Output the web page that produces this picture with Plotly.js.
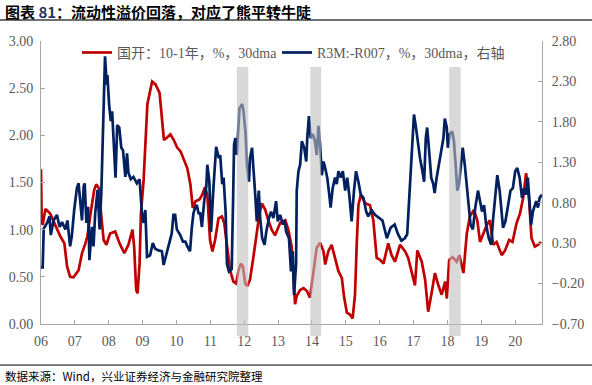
<!DOCTYPE html>
<html><head><meta charset="utf-8">
<script src="https://cdn.plot.ly/plotly-3.0.1.min.js"></script>
<style>html,body{margin:0;padding:0;background:#fff;}#chart{width:592px;height:385px;}</style>
</head><body><div id="chart"></div>
<script>
// X tick labels
var tickYears = [2006,2007,2008,2009,2010,2011,2012,2013,2014,2015,2016,2017,2018,2019,2020];
var tickLabels = ["06","07","08","09","10","11","12","13","14","15","16","17","18","19","20"];

// 国开：10-1年（左轴）
var redYears = [2006.00,2006.02,2006.05,2006.13,2006.27,2006.42,2006.57,2006.69,2006.77,2006.86,2006.96,2007.11,2007.21,2007.31,2007.37,2007.45,2007.57,2007.63,2007.71,2007.78,2007.85,2007.93,2008.04,2008.19,2008.32,2008.46,2008.58,2008.70,2008.75,2008.81,2008.85,2008.91,2008.95,2009.03,2009.08,2009.14,2009.28,2009.38,2009.50,2009.58,2009.63,2009.73,2009.82,2009.92,2010.02,2010.12,2010.22,2010.32,2010.41,2010.48,2010.56,2010.68,2010.76,2010.84,2010.91,2010.99,2011.06,2011.14,2011.24,2011.34,2011.41,2011.49,2011.58,2011.68,2011.76,2011.83,2011.90,2011.96,2012.03,2012.09,2012.17,2012.27,2012.37,2012.45,2012.52,2012.62,2012.71,2012.81,2012.91,2013.06,2013.21,2013.30,2013.40,2013.47,2013.50,2013.55,2013.65,2013.75,2013.85,2013.94,2014.04,2014.14,2014.24,2014.34,2014.39,2014.48,2014.58,2014.68,2014.78,2014.88,2014.95,2015.03,2015.12,2015.20,2015.27,2015.32,2015.37,2015.44,2015.57,2015.71,2015.81,2015.91,2016.01,2016.11,2016.25,2016.35,2016.45,2016.60,2016.75,2016.84,2016.97,2017.04,2017.11,2017.24,2017.34,2017.43,2017.53,2017.63,2017.73,2017.83,2017.93,2017.98,2018.05,2018.15,2018.27,2018.35,2018.47,2018.57,2018.66,2018.78,2018.88,2018.96,2019.06,2019.16,2019.25,2019.35,2019.45,2019.60,2019.70,2019.82,2019.92,2020.04,2020.14,2020.24,2020.32,2020.41,2020.48,2020.58,2020.68,2020.76];
var redVals = [1.64,1.10,1.05,1.22,1.17,1.05,0.93,0.855,0.61,0.50,0.495,0.57,0.75,0.855,0.93,1.14,1.42,1.48,1.44,1.14,0.89,0.84,0.96,0.98,0.855,0.75,0.84,1.00,0.82,0.36,0.325,0.64,1.17,1.53,1.97,2.33,2.57,2.54,2.45,2.15,1.95,1.98,2.01,1.95,1.87,1.83,1.74,1.65,1.48,1.23,1.30,1.32,1.37,1.45,1.37,0.89,0.77,0.89,1.12,1.14,1.07,0.82,0.57,0.45,0.43,0.57,0.64,0.61,0.43,0.40,0.47,0.71,0.96,1.17,1.28,1.21,1.10,1.00,0.94,1.07,1.10,1.00,0.82,0.47,0.21,0.30,0.36,0.38,0.35,0.28,0.56,0.81,0.86,0.77,0.63,0.77,0.84,0.70,0.56,0.49,0.28,0.12,0.10,0.06,0.31,0.84,1.26,1.37,1.28,1.26,1.10,0.70,0.68,0.64,0.855,0.73,0.66,0.84,0.77,0.70,0.50,0.41,0.78,0.66,0.47,0.13,0.325,0.54,0.41,0.31,0.45,0.27,0.68,0.71,0.66,0.73,0.54,0.96,1.14,1.21,1.10,0.87,0.96,1.05,1.10,0.84,0.87,0.73,0.78,0.89,0.87,1.07,1.17,1.35,1.60,1.31,0.91,0.82,0.84,0.87];

// R3M-R007（右轴）
var blueYears = [2006.00,2006.05,2006.08,2006.18,2006.25,2006.29,2006.37,2006.47,2006.55,2006.62,2006.72,2006.78,2006.86,2006.91,2006.98,2007.06,2007.11,2007.16,2007.21,2007.26,2007.29,2007.34,2007.39,2007.43,2007.50,2007.55,2007.60,2007.67,2007.73,2007.78,2007.80,2007.84,2007.89,2007.94,2007.96,2008.01,2008.06,2008.10,2008.16,2008.20,2008.25,2008.31,2008.37,2008.42,2008.49,2008.54,2008.58,2008.65,2008.73,2008.83,2008.91,2008.98,2009.03,2009.08,2009.13,2009.22,2009.30,2009.37,2009.47,2009.57,2009.62,2009.72,2009.79,2009.86,2009.91,2009.96,2010.01,2010.11,2010.19,2010.26,2010.32,2010.40,2010.45,2010.50,2010.55,2010.60,2010.65,2010.70,2010.75,2010.82,2010.88,2010.91,2010.97,2011.02,2011.09,2011.17,2011.25,2011.29,2011.35,2011.39,2011.45,2011.49,2011.55,2011.63,2011.67,2011.70,2011.74,2011.78,2011.82,2011.86,2011.94,2011.98,2012.04,2012.08,2012.14,2012.17,2012.23,2012.27,2012.33,2012.37,2012.43,2012.47,2012.53,2012.60,2012.65,2012.73,2012.79,2012.86,2012.94,2012.99,2013.06,2013.14,2013.19,2013.24,2013.32,2013.38,2013.43,2013.47,2013.53,2013.55,2013.60,2013.65,2013.70,2013.77,2013.83,2013.86,2013.91,2013.96,2014.02,2014.09,2014.14,2014.19,2014.24,2014.29,2014.34,2014.39,2014.45,2014.51,2014.55,2014.61,2014.68,2014.73,2014.78,2014.85,2014.91,2014.98,2015.04,2015.10,2015.17,2015.24,2015.30,2015.37,2015.44,2015.52,2015.60,2015.66,2015.76,2015.86,2015.98,2016.08,2016.21,2016.32,2016.44,2016.54,2016.64,2016.74,2016.81,2016.89,2016.96,2017.01,2017.06,2017.13,2017.19,2017.26,2017.31,2017.36,2017.40,2017.45,2017.52,2017.58,2017.62,2017.68,2017.75,2017.82,2017.88,2017.92,2017.98,2018.01,2018.07,2018.14,2018.19,2018.24,2018.29,2018.34,2018.39,2018.45,2018.51,2018.55,2018.60,2018.68,2018.75,2018.82,2018.90,2018.96,2019.02,2019.08,2019.14,2019.22,2019.29,2019.34,2019.41,2019.47,2019.54,2019.59,2019.64,2019.71,2019.78,2019.86,2019.93,2020.00,2020.06,2020.13,2020.20,2020.26,2020.32,2020.37,2020.42,2020.47,2020.52,2020.57,2020.62,2020.67,2020.72,2020.79];
var blueVals = [0.00,0.00,0.48,0.55,0.63,0.40,0.58,0.65,0.50,0.56,0.47,0.58,0.26,0.39,0.71,0.98,1.04,0.75,0.58,1.00,1.04,0.55,0.75,0.09,0.50,0.26,0.67,0.96,0.47,0.92,1.19,2.02,2.61,2.26,2.38,2.02,1.81,1.93,1.39,1.11,1.76,1.73,1.48,1.45,1.12,1.41,1.17,1.09,1.12,1.04,1.09,0.67,0.55,0.71,0.13,0.15,0.30,0.23,0.21,0.20,0.03,0.18,0.30,0.42,0.65,0.65,0.47,0.40,0.32,0.32,0.26,0.20,0.48,0.67,0.74,0.77,0.67,0.67,0.50,0.83,1.00,1.27,1.06,0.44,0.98,1.49,1.35,1.39,1.03,1.11,0.69,0.04,-0.05,-0.02,0.82,1.52,1.60,1.39,1.68,1.97,2.02,1.93,1.65,1.27,1.06,1.35,1.48,1.27,0.86,0.57,0.95,0.61,0.36,0.28,0.44,0.61,0.69,0.61,0.82,0.57,0.65,0.53,0.58,0.44,0.36,-0.05,0.20,-0.34,0.04,0.95,1.19,1.27,1.56,1.48,1.31,1.60,1.87,1.60,1.65,1.56,1.39,1.75,1.52,1.14,1.31,1.23,1.11,0.90,0.74,0.98,1.11,1.03,1.19,1.11,1.19,0.95,1.11,0.90,0.57,0.95,1.19,1.06,0.90,0.86,0.69,0.63,0.71,0.65,0.61,0.58,0.36,0.49,0.53,0.41,0.33,0.36,0.41,0.98,1.60,1.89,1.76,1.52,1.35,1.19,1.06,1.60,1.73,1.48,1.11,1.03,0.92,1.11,1.27,1.48,1.60,1.84,1.73,1.48,1.65,1.68,1.56,1.27,0.95,1.03,1.27,1.48,1.27,1.11,0.82,0.53,0.47,0.74,0.95,0.82,0.69,0.77,0.53,0.36,0.28,0.57,0.90,1.14,0.95,0.69,0.49,0.57,0.77,0.95,0.98,1.19,1.23,1.11,0.86,0.98,0.90,1.11,0.82,0.53,0.69,0.77,0.82,0.74,0.86,0.90];

// 阴影区间
var bandStarts = [2011.78, 2013.95, 2018.05];
var bandEnds   = [2012.12, 2014.27, 2018.39];

var leftTicks = [0,0.5,1,1.5,2,2.5,3];
var rightTicks = [-0.7,-0.2,0.3,0.8,1.3,1.8,2.3,2.8];

var serif = '"Liberation Serif", "Noto Sans CJK SC", serif';
var grey = '#595959';

var traces = [
  {x: redYears, y: redVals, type: 'scatter', mode: 'lines', name: '国开：10-1年，%，30dma',
   line: {color: '#c00000', width: 2.7}, yaxis: 'y', legend: 'legend'},
  {x: blueYears, y: blueVals, type: 'scatter', mode: 'lines', name: 'R3M:-R007，%，30dma，右轴',
   line: {color: '#002060', width: 2.7}, yaxis: 'y2', legend: 'legend2'}
];

var shapes = [];
for (var i = 0; i < bandStarts.length; i++) {
  shapes.push({type: 'rect', xref: 'x', yref: 'paper', x0: bandStarts[i], x1: bandEnds[i],
    y0: -0.042, y1: 0.908, fillcolor: '#bfbfbf', opacity: 0.6, line: {width: 0}, layer: 'above'});
}
shapes.push({type: 'line', xref: 'paper', yref: 'paper', x0: -41/501, x1: 551/501, y0: 1.074, y1: 1.074,
  line: {color: '#404040', width: 1.5}});
shapes.push({type: 'line', xref: 'paper', yref: 'paper', x0: -41/501, x1: 551/501, y0: -0.145, y1: -0.145,
  line: {color: '#000000', width: 1}});

var layout = {
  width: 592, height: 385,
  margin: {l: 41, r: 50, t: 41, b: 61, pad: 0},
  paper_bgcolor: '#ffffff', plot_bgcolor: '#ffffff',
  font: {family: serif, size: 14, color: grey},
  xaxis: {range: [2006, 2020.79], tickmode: 'array', tickvals: tickYears, ticktext: tickLabels,
    showgrid: false, zeroline: false, showline: true, linecolor: '#a6a6a6', linewidth: 1,
    ticks: 'inside', ticklen: 4, tickcolor: '#a6a6a6', ticklabelstandoff: 4,
    tickfont: {family: serif, size: 14, color: grey}},
  yaxis: {range: [0, 3], tickmode: 'array', tickvals: leftTicks, tickformat: '.2f',
    showgrid: false, zeroline: false, showline: true, linecolor: '#a6a6a6', linewidth: 1,
    ticks: 'inside', ticklen: 4, tickcolor: '#a6a6a6', ticklabelstandoff: 4,
    tickfont: {family: serif, size: 14, color: grey}},
  yaxis2: {range: [-0.7, 2.8], overlaying: 'y', side: 'right', tickmode: 'array', tickvals: rightTicks, tickformat: '.2f',
    showgrid: false, zeroline: false, showline: true, linecolor: '#a6a6a6', linewidth: 1,
    ticks: 'inside', ticklen: 4, tickcolor: '#a6a6a6', ticklabelstandoff: 6,
    tickfont: {family: serif, size: 14, color: grey}},
  legend: {x: 36/501, xanchor: 'left', y: 0.958, yanchor: 'middle', orientation: 'h',
    bgcolor: 'rgba(0,0,0,0)', borderwidth: 0, font: {family: serif, size: 14, color: grey}},
  legend2: {x: 236/501, xanchor: 'left', y: 0.958, yanchor: 'middle', orientation: 'h',
    bgcolor: 'rgba(0,0,0,0)', borderwidth: 0, font: {family: serif, size: 14, color: grey}},
  showlegend: true,
  shapes: shapes,
  annotations: [
    {text: '<b>图表 <span style="color:#1f3864">81</span>：流动性溢价回落，对应了熊平转牛陡</b>',
     xref: 'paper', yref: 'paper', x: -38/501, y: (324 - 12)/283, xanchor: 'left', yanchor: 'middle',
     showarrow: false, font: {family: '"Noto Sans CJK SC", sans-serif', size: 15, color: '#000000'}},
    {text: '数据来源：Wind，兴业证券经济与金融研究院整理', xref: 'paper', yref: 'paper',
     x: -38/501, y: -0.184, xanchor: 'left', yanchor: 'middle', showarrow: false,
     font: {family: '"Noto Sans CJK SC", sans-serif', size: 11.5, color: '#000000'}}]
};

Plotly.newPlot('chart', traces, layout, {staticPlot: true, displayModeBar: false});
</script>
</body></html>
